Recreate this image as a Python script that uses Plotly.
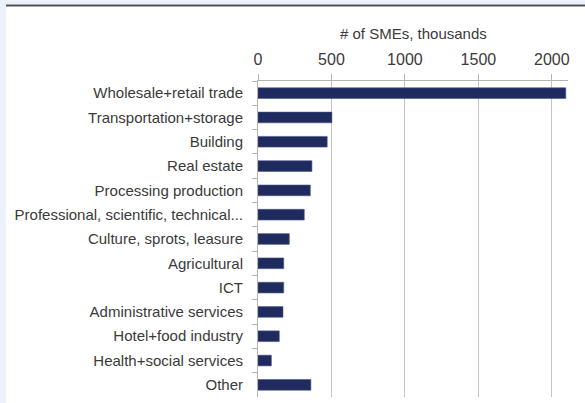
import plotly.graph_objects as go

sectors = [
    "Wholesale+retail trade",
    "Transportation+storage",
    "Building",
    "Real estate",
    "Processing production",
    "Professional, scientific, technical...",
    "Culture, sprots, leasure",
    "Agricultural",
    "ICT",
    "Administrative services",
    "Hotel+food industry",
    "Health+social services",
    "Other",
]
smes_thousands = [2095, 503, 471, 367, 356, 315, 213, 175, 175, 170, 145, 91, 360]
x_ticks = [0, 500, 1000, 1500, 2000]
x_title = "# of SMEs, thousands"

FONT = "Liberation Sans, Arial, sans-serif"
TXT = "#3a3a3a"
FS = 15

fig = go.Figure(
    go.Bar(
        x=smes_thousands,
        y=sectors,
        orientation="h",
        marker=dict(color="#1f2a5e", line=dict(color="#4a5888", width=0.6)),
        width=0.44,
        hoverinfo="x+y",
    )
)

W, H = 585, 403
L, R, T, B = 258, 17, 81, 6
pw, ph = W - L - R, H - T - B


def px_x(p):
    return (p - L) / pw


def px_y(p):
    return (H - B - p) / ph


fig.update_layout(
    width=W,
    height=H,
    margin=dict(l=L, r=R, t=T, b=B, pad=0, autoexpand=False),
    paper_bgcolor="white",
    plot_bgcolor="white",
    showlegend=False,
    font=dict(family=FONT, size=FS, color=TXT),
    xaxis=dict(
        side="top",
        range=[0, 2110],
        tickvals=x_ticks,
        ticktext=[str(v) for v in x_ticks],
        showgrid=True,
        gridcolor="#c4c4c4",
        gridwidth=1,
        showline=True,
        linecolor="#b4b4b4",
        linewidth=1,
        ticks="outside",
        ticklen=6,
        tickcolor="#b4b4b4",
        ticklabelstandoff=3,
        tickfont=dict(family=FONT, size=FS + 1, color=TXT),
        zeroline=False,
        automargin=False,
        fixedrange=True,
    ),
    yaxis=dict(
        type="category",
        categoryorder="array",
        categoryarray=sectors,
        autorange="reversed",
        showline=True,
        linecolor="#b4b4b4",
        linewidth=1,
        ticks="outside",
        tickson="boundaries",
        ticklen=5,
        tickcolor="#b4b4b4",
        ticklabelstandoff=11,
        tickfont=dict(family=FONT, size=FS, color=TXT),
        showgrid=False,
        zeroline=False,
        automargin=False,
        fixedrange=True,
    ),
    annotations=[
        dict(
            text=x_title,
            xref="paper",
            yref="paper",
            x=0.5,
            y=px_y(33),
            xanchor="center",
            yanchor="middle",
            showarrow=False,
            font=dict(family=FONT, size=FS, color=TXT),
        )
    ],
    shapes=[
        dict(type="rect", xref="paper", yref="paper",
             x0=px_x(0), x1=px_x(6), y0=px_y(H), y1=px_y(0),
             fillcolor="#edf2fa", line=dict(width=0), layer="below"),
        dict(type="rect", xref="paper", yref="paper",
             x0=px_x(0), x1=px_x(W), y0=px_y(4.5), y1=px_y(0),
             fillcolor="#edf2fa", line=dict(width=0), layer="below"),
        dict(type="line", xref="paper", yref="paper",
             x0=px_x(6), x1=px_x(W), y0=px_y(5.5), y1=px_y(5.5),
             line=dict(color="#505050", width=2)),
    ],
)

fig.write_html(
    "out.html",
    config={"displayModeBar": False},
    post_script="document.body.style.margin='0';document.body.style.overflow='hidden';",
)
